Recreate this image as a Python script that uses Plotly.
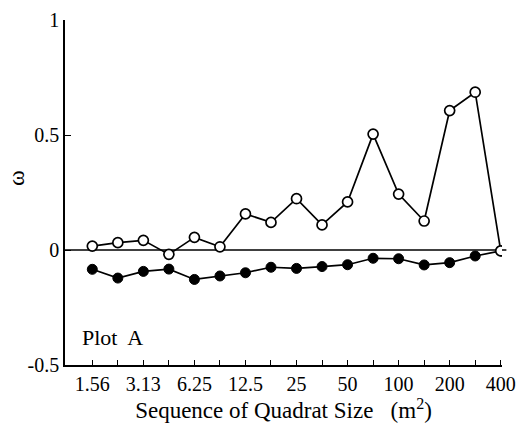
import plotly.graph_objects as go

sizes = ["1.56", "2.21", "3.13", "4.42", "6.25", "8.84", "12.5", "17.7", "25",
         "35.4", "50", "70.7", "100", "141", "200", "283", "400"]
label_idx = [0, 2, 4, 6, 8, 10, 12, 14, 16]
tick_labels = ["1.56", "3.13", "6.25", "12.5", "25", "50", "100", "200", "400"]
open_vals = [0.017, 0.032, 0.042, -0.019, 0.055, 0.014, 0.157, 0.12, 0.223,
             0.109, 0.209, 0.504, 0.243, 0.126, 0.606, 0.686, -0.004]
filled_vals = [-0.084, -0.122, -0.093, -0.083, -0.128, -0.113, -0.099, -0.075,
               -0.080, -0.072, -0.064, -0.036, -0.038, -0.065, -0.055, -0.026, -0.004]

idx = list(range(len(sizes)))
font = "Liberation Serif, Times New Roman, serif"

fig = go.Figure()
fig.add_trace(go.Scatter(
    x=idx, y=filled_vals, mode="lines+markers",
    line=dict(color="black", width=1.7),
    marker=dict(symbol="circle", size=10, color="black", line=dict(color="black", width=1)),
    showlegend=False))
fig.add_trace(go.Scatter(
    x=idx, y=open_vals, mode="lines+markers",
    line=dict(color="black", width=1.7),
    marker=dict(symbol="circle", size=10, color="white", line=dict(color="black", width=1.7)),
    showlegend=False))

fig.add_shape(type="line", xref="paper", yref="y", x0=0, x1=1.01, y0=0, y1=0,
              line=dict(color="black", width=1.3), layer="below")

fig.add_annotation(text="Plot  A", xref="paper", yref="y", x=0.035, y=-0.38,
                   xanchor="left", yanchor="middle", showarrow=False,
                   font=dict(family=font, size=22, color="black"))

fig.add_annotation(text="ω", xref="paper", yref="paper", x=-0.112, y=0.542,
                   xanchor="center", yanchor="middle", textangle=-90, showarrow=False,
                   font=dict(family=font, size=24, color="black"))

fig.update_layout(
    width=522, height=426,
    margin=dict(l=65, r=20, t=20, b=61),
    paper_bgcolor="white", plot_bgcolor="white",
    font=dict(family=font, size=20, color="black"),
    xaxis=dict(range=[-1.07, 16.05], tickmode="array", tickvals=label_idx, ticktext=tick_labels,
               ticks="inside", ticklen=5, tickwidth=1, tickcolor="black",
               minor=dict(ticks="inside", ticklen=5, tickwidth=1, tickcolor="black",
                          tickmode="array", tickvals=idx),
               showline=True, linecolor="black", linewidth=1.5, showgrid=False,
               zeroline=False, automargin=False, tickfont=dict(size=20),
               title=dict(text="Sequence of Quadrat Size   (m<sup>2</sup>)", font=dict(size=23), standoff=1)),
    yaxis=dict(range=[-0.5, 1], tickmode="array", tickvals=[-0.5, 0, 0.5, 1],
               ticktext=["-0.5", "0", "0.5", "1"],
               ticks="inside", ticklen=6, tickwidth=1, tickcolor="black",
               showline=True, linecolor="black", linewidth=1.5, showgrid=False,
               zeroline=False, automargin=False, tickfont=dict(size=20)),
)

fig.write_html("out.html", config={"displayModeBar": False})

with open("out.html", "r", encoding="utf-8") as f:
    html = f.read()
html = html.replace("<head>", "<head><style>html,body{margin:0;padding:0;overflow:hidden;}</style>", 1)
with open("out.html", "w", encoding="utf-8") as f:
    f.write(html)
